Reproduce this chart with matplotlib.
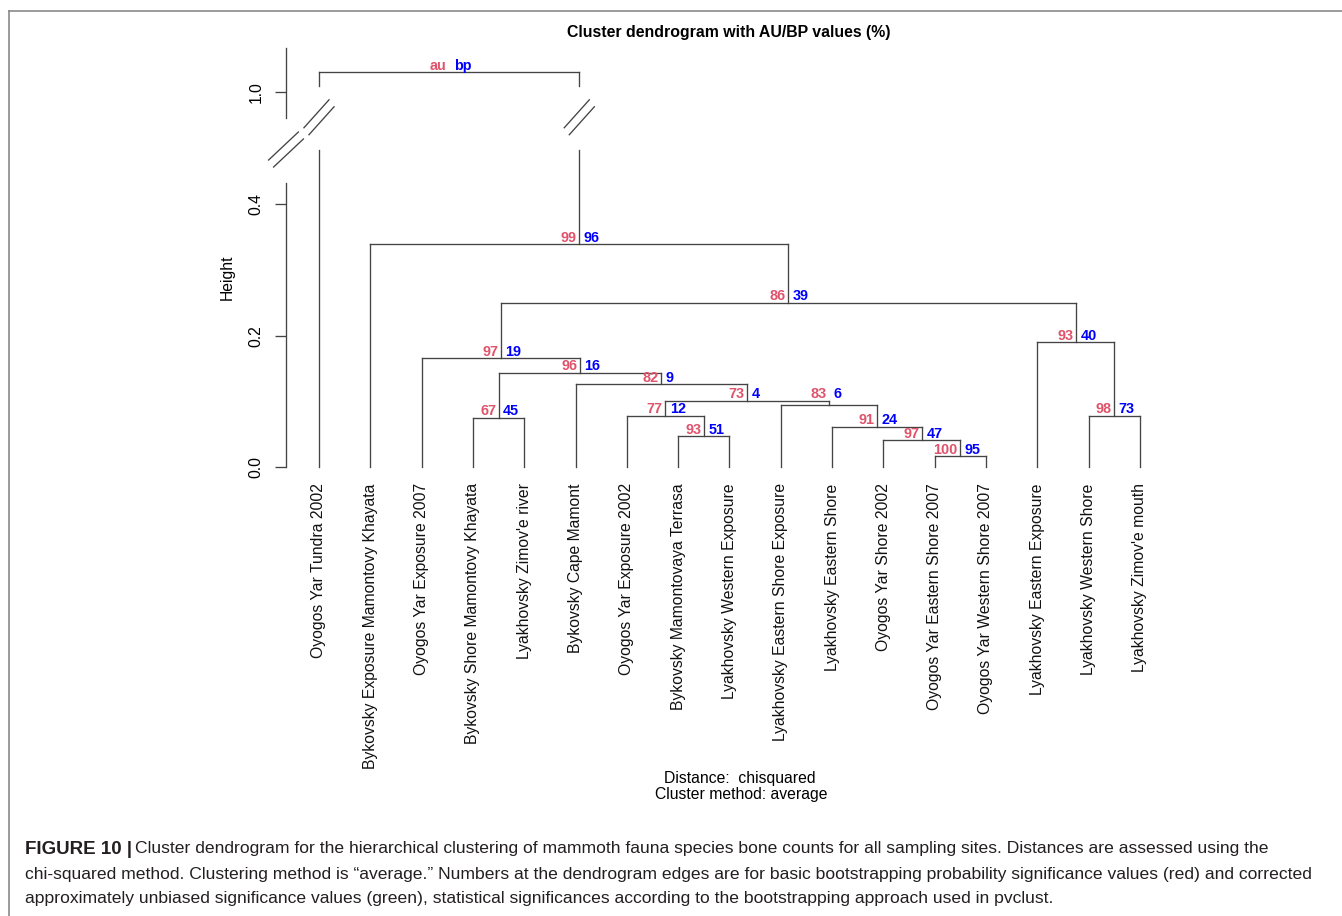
import numpy as np
import matplotlib
matplotlib.use("Agg")
import matplotlib.pyplot as plt
from matplotlib.lines import Line2D

plt.rcParams['font.family'] = ['Liberation Sans', 'DejaVu Sans']

# leaves in plotted order
leaf_labels = [
    "Oyogos Yar Tundra 2002", "Bykovsky Exposure Mamontovy Khayata",
    "Oyogos Yar Exposure 2007", "Bykovsky Shore Mamontovy Khayata",
    "Lyakhovsky Zimov'e river", "Bykovsky Cape Mamont",
    "Oyogos Yar Exposure 2002", "Bykovsky Mamontovaya Terrasa",
    "Lyakhovsky Western Exposure", "Lyakhovsky Eastern Shore Exposure",
    "Lyakhovsky Eastern Shore", "Oyogos Yar Shore 2002",
    "Oyogos Yar Eastern Shore 2007", "Oyogos Yar Western Shore 2007",
    "Lyakhovsky Eastern Exposure", "Lyakhovsky Western Shore",
    "Lyakhovsky Zimov'e mouth",
]

# merges, hclust style: -k = leaf k (1-based position), +k = merge k
merge_left = [-13, -12, -8, -11, -4, -7, -16, -10, 6, -6, 5, -3, -15, 12, -2, -1]
merge_right = [-14, 1, -9, 2, -5, 3, -17, 4, 8, 9, 10, 11, 7, 13, 14, 15]
heights = [0.017, 0.041, 0.047, 0.062, 0.075, 0.078, 0.078, 0.095,
           0.101, 0.126, 0.144, 0.166, 0.190, 0.250, 0.339, 1.03]
au_vals = ["100", "97", "93", "91", "67", "77", "98", "83",
           "73", "82", "96", "97", "93", "86", "99", "au"]
bp_vals = ["95", "47", "51", "24", "45", "12", "73", "6",
           "4", "9", "16", "19", "40", "39", "96", "bp"]

y_ticks = [0.0, 0.2, 0.4, 1.0]
y_tick_labels = ["0.0", "0.2", "0.4", "1.0"]

# broken axis: heights above 0.5 get shifted down
BREAK = 0.5
SHIFT = 0.4296
LO_END, HI_START, MARK_Y = 0.482, 0.58, 0.532


def disp(h):
    return h if h < BREAK else h - SHIFT


W, H = 1342, 916
fig = plt.figure(figsize=(W / 100, H / 100), dpi=100)
ax = fig.add_axes([286 / W, (H - 467.3) / H, 884.7 / W, 421.1 / H])
ax.set_xlim(1 - 33 / 51.31, 17.6)
ax.set_ylim(0, 0.64)
for s in ax.spines.values():
    s.set_visible(False)

lc = '#444444'
lw = 0.95
au_col = '#DF536B'
bp_col = '#0000FF'


def break_mark(cx, cy, hx, hy):
    # two short parallel slashes
    ox, oy = 0.049, 0.0053
    for sgn in (-1, 1):
        x0 = cx + sgn * ox
        y0 = cy - sgn * oy
        ax.plot([x0 - hx, x0 + hx], [y0 - hy, y0 + hy], color=lc, lw=lw,
                clip_on=False, solid_capstyle='butt')


def vline(x, h0, h1):
    if h1 >= BREAK and h0 < BREAK:
        ax.plot([x, x], [disp(h0), LO_END], color=lc, lw=lw, clip_on=False)
        ax.plot([x, x], [HI_START, disp(h1)], color=lc, lw=lw, clip_on=False)
        break_mark(x, MARK_Y, 0.253, 0.022)
    else:
        ax.plot([x, x], [disp(h0), disp(h1)], color=lc, lw=lw, clip_on=False)


node_x = []
node_h = []
parent_h = [None] * len(heights)
for i, (a, b) in enumerate(zip(merge_left, merge_right)):
    for c in (a, b):
        if c > 0:
            parent_h[c - 1] = heights[i]


def child_pos(c):
    if c < 0:
        return -c, 0.0
    return node_x[c - 1], node_h[c - 1]


for i, (a, b) in enumerate(zip(merge_left, merge_right)):
    h = heights[i]
    xa, ha = child_pos(a)
    xb, hb = child_pos(b)
    vline(xa, ha, h)
    vline(xb, hb, h)
    ax.plot([xa, xb], [disp(h), disp(h)], color=lc, lw=lw, clip_on=False)
    node_x.append((xa + xb) / 2)
    node_h.append(h)

# edge labels (au red, bp blue)
for i in range(len(heights)):
    lh = heights[i]
    if parent_h[i] is not None and parent_h[i] - lh < 0.015:
        lh = parent_h[i]
    y = disp(lh)
    ax.annotate(au_vals[i], (node_x[i], y), xytext=(-2.5, 2.5),
                textcoords='offset pixels', ha='right', va='baseline',
                color=au_col, fontsize=10.4, fontweight='bold', clip_on=False)
    ax.annotate(bp_vals[i], (node_x[i], y), xytext=(4.5, 2.5),
                textcoords='offset pixels', ha='left', va='baseline',
                color=bp_col, fontsize=10.4, fontweight='bold', clip_on=False)

# y axis, drawn in two pieces with a break
x_axis = ax.get_xlim()[0]
ax.plot([x_axis, x_axis], [0, 0.432], color=lc, lw=lw, clip_on=False)
ax.plot([x_axis, x_axis], [0.531, 0.637], color=lc, lw=lw, clip_on=False)
break_mark(x_axis, 0.483, 0.3, 0.022)

ax.set_yticks([disp(v) for v in y_ticks])
ax.set_yticklabels(y_tick_labels, rotation=90, va='center', fontsize=11.3)
ax.tick_params(axis='y', length=8, width=lw, color=lc, pad=8)

ax.set_xticks(np.arange(1, len(leaf_labels) + 1))
ax.set_xticklabels(leaf_labels, rotation=90, fontsize=11.3, color='#111111')
ax.tick_params(axis='x', length=0, pad=11.5)

fig.text(729 / W, 1 - 33 / H, "Cluster dendrogram with AU/BP values (%)",
         ha='center', va='center', fontsize=11.4, fontweight='bold')
fig.text(227 / W, 1 - 277 / H, "Height", rotation=90, ha='center',
         va='center', fontsize=11.3)
fig.text(740 / W, 1 - 778 / H, "Distance:  chisquared", ha='center',
         va='center', fontsize=11.3)
fig.text(741 / W, 1 - 795 / H, "Cluster method: average", ha='center',
         va='center', fontsize=11.3)

# frame lines of the figure panel
fig.add_artist(Line2D([9 / W, 1], [1 - 11 / H, 1 - 11 / H], color='#8a8a8a',
                      lw=1.2, transform=fig.transFigure))
fig.add_artist(Line2D([9 / W, 9 / W], [0, 1 - 11 / H], color='#8a8a8a',
                      lw=1.2, transform=fig.transFigure))

# caption
cap_lines = [
    "Cluster dendrogram for the hierarchical clustering of mammoth fauna species bone counts for all sampling sites. Distances are assessed using the",
    "chi-squared method. Clustering method is \u201caverage.\u201d Numbers at the dendrogram edges are for basic bootstrapping probability significance values (red) and corrected",
    "approximately unbiased significance values (green), statistical significances according to the bootstrapping approach used in pvclust.",
]
cap_y = [849, 874, 898]
cap_size = 12.6
t0 = fig.text(25 / W, 1 - cap_y[0] / H, "FIGURE 10 |", ha='left', va='center',
              fontsize=13.5, fontweight='bold', color='#231f20')
fig.canvas.draw()
bb = t0.get_window_extent()
fig.text((bb.x1 + 3) / W, 1 - cap_y[0] / H, cap_lines[0], ha='left',
         va='center', fontsize=cap_size, color='#231f20')
for line, y in zip(cap_lines[1:], cap_y[1:]):
    fig.text(25 / W, 1 - y / H, line, ha='left', va='center',
             fontsize=cap_size, color='#231f20')

fig.savefig("out.png", dpi=100)
